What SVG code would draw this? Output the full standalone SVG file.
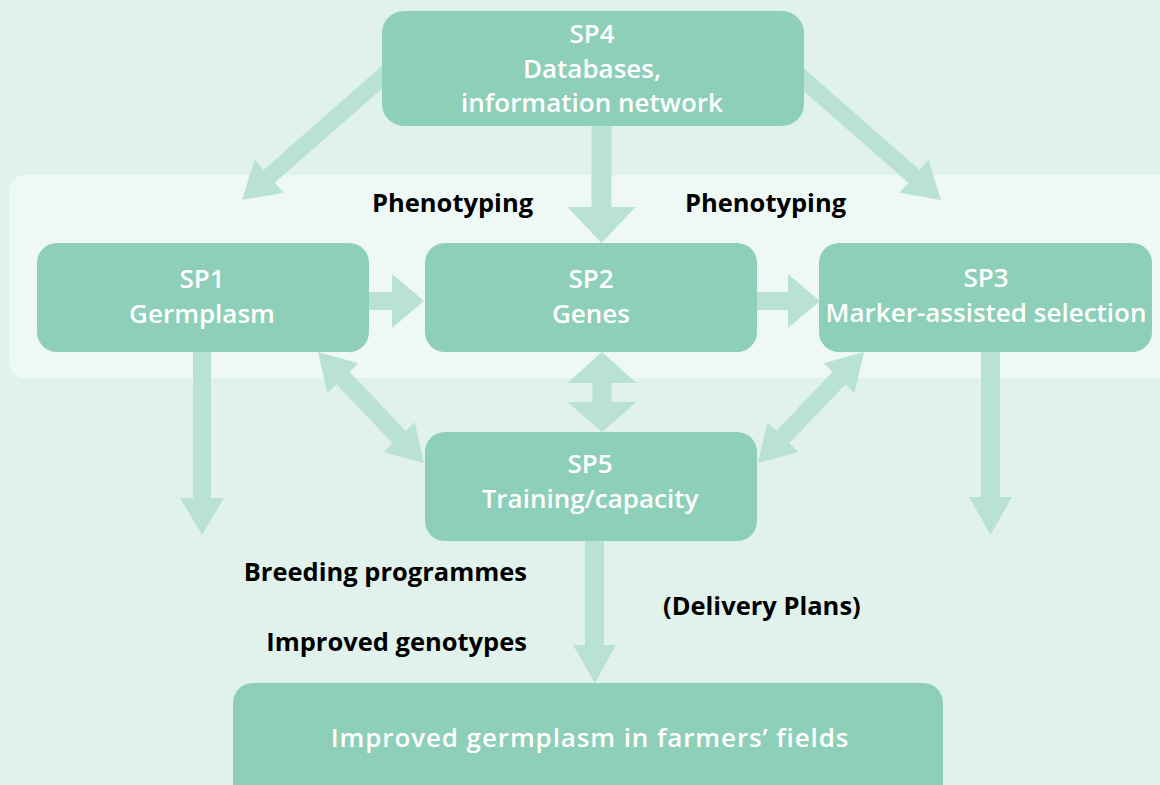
<svg xmlns="http://www.w3.org/2000/svg" width="1160" height="785" viewBox="0 0 1160 785">
<style>
.bg{fill:#e1f2ec}
.band{fill:#eef8f4}
.box{fill:#8dcfb8}
.arr{fill:#b9e2d5}
.wt{font-family:"Open Sans","Noto Sans","Liberation Sans",sans-serif;font-weight:600;font-size:26px;fill:#ffffff;text-anchor:middle}
.bk{font-family:"Open Sans","Noto Sans","Liberation Sans",sans-serif;font-weight:700;font-size:25.5px;fill:#000000}
</style>
<rect class="bg" x="0" y="0" width="1160" height="785"/>
<rect class="band" x="9" y="175" width="1170" height="203" rx="16"/>
<g id="connectors">
  <polygon class="arr" points="393.2,56.1 263.5,169.9 254.6,159.8 242,200 283.6,192.8 274.7,182.7 404.4,68.9"/>
  <polygon class="arr" points="789.8,56.1 919.5,169.9 928.4,159.8 941,200 899.4,192.8 908.3,182.7 778.6,68.9"/>
  <polygon class="arr" points="591.5,100 611.5,100 611.5,207 635.5,207 601.5,243 567.5,207 591.5,207"/>
  <polygon class="arr" points="360,292 392,292 392,274 424,301 392,328 392,310 360,310"/>
  <polygon class="arr" points="750,292 788,292 788,274 820,301 788,328 788,310 750,310"/>
  <polygon class="arr" points="602,352 636.5,383 611.5,383 611.5,402 636.5,402 602,432 567.5,402 592.5,402 592.5,383 567.5,383"/>
  <polygon class="arr" points="318,352 327.4,392.9 336.4,384.2 392.6,443.2 383.6,451.9 424,463 414.7,422.2 405.6,430.8 349.4,371.8 358.5,363.2"/>
  <polygon class="arr" points="864,352 854.6,392.9 845.6,384.2 789.4,443.2 798.4,451.9 758,463 767.3,422.2 776.4,430.8 832.6,371.8 823.5,363.2"/>
  <polygon class="arr" points="193,340 211,340 211,498 224,498 202,535 180,498 193,498"/>
  <polygon class="arr" points="981,340 1000,340 1000,497 1012,497 990.5,535 969,497 981,497"/>
  <polygon class="arr" points="585,530 604,530 604,645 616,645 595,683 573,645 585,645"/>
</g>
<g id="sp4">
  <rect class="box" x="382" y="11" width="422" height="115" rx="22"/>
  <text class="wt" x="592" y="43">SP4</text>
  <text class="wt" x="592" y="78">Databases,</text>
  <text class="wt" x="592" y="112">information network</text>
</g>
<g id="sp1">
  <rect class="box" x="37" y="243" width="332" height="109" rx="20"/>
  <text class="wt" x="202" y="288">SP1</text>
  <text class="wt" x="202" y="323">Germplasm</text>
</g>
<g id="sp2">
  <rect class="box" x="425" y="243" width="332" height="109" rx="20"/>
  <text class="wt" x="591" y="288">SP2</text>
  <text class="wt" x="591" y="323">Genes</text>
</g>
<g id="sp3">
  <rect class="box" x="819" y="243" width="333" height="109" rx="20"/>
  <text class="wt" x="986" y="287">SP3</text>
  <text class="wt" x="986" y="322">Marker-assisted selection</text>
</g>
<g id="sp5">
  <rect class="box" x="425" y="432" width="332" height="109" rx="20"/>
  <text class="wt" x="590" y="473">SP5</text>
  <text class="wt" x="590" y="508">Training/capacity</text>
</g>
<g id="final">
  <rect class="box" x="233" y="683" width="710" height="130" rx="20"/>
  <text class="wt" x="590" y="747" letter-spacing="0.9">Improved germplasm in farmers’ fields</text>
</g>
<g id="labels">
  <text class="bk" x="372" y="212">Phenotyping</text>
  <text class="bk" x="685" y="212">Phenotyping</text>
  <text class="bk" x="527" y="581" text-anchor="end">Breeding programmes</text>
  <text class="bk" x="527" y="651" text-anchor="end">Improved genotypes</text>
  <text class="bk" x="663" y="615">(Delivery Plans)</text>
</g>
</svg>
